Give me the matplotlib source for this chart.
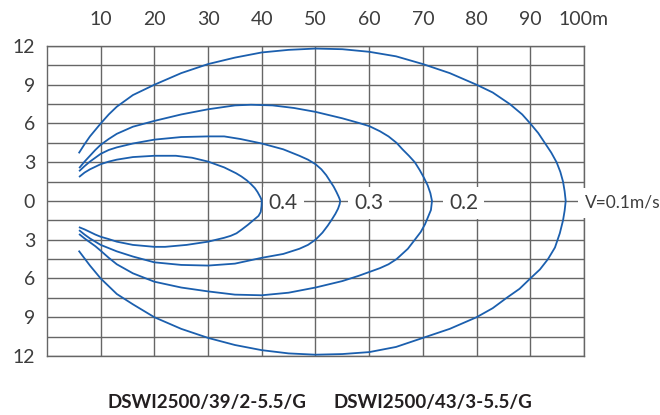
import numpy as np
import matplotlib
matplotlib.use("Agg")
from matplotlib import pyplot as plt

plt.rcParams['font.family'] = ['Lato', 'DejaVu Sans']

# distance (m) and half-width (m), one contour per velocity
v01_x = [6.0, 7, 8, 9, 10, 11.5, 13, 16, 20, 25, 30, 35, 40, 45, 50, 55, 60, 65, 70, 75, 80, 83, 86.2, 88.5, 90, 91.5,
         92.7, 93.9, 94.9, 95.6, 96.1, 96.4, 96.6,
         96.4, 96.1, 95.5, 94.6, 93.3, 91.8, 90, 88, 85.6, 83, 80, 75, 70, 65, 60, 55, 50, 45, 40, 35, 30, 25, 20, 16,
         13, 11.5, 10, 9, 8, 7, 6.0]
v01_y = [3.75, 4.4, 5.0, 5.5, 6.0, 6.7, 7.3, 8.2, 9.0, 9.9, 10.6, 11.1, 11.5, 11.7, 11.8, 11.75, 11.55, 11.2, 10.6, 9.9, 9.0,
         8.4, 7.5, 6.7, 6.0, 5.25, 4.5, 3.75, 3.0, 2.25, 1.5, 0.75, 0,
         -0.75, -1.5, -2.5, -3.6, -4.5, -5.3, -6.0, -6.8, -7.5, -8.3, -9.0, -9.9, -10.6, -11.3, -11.7, -11.85, -11.9,
         -11.8, -11.55, -11.15, -10.6, -9.9, -9.0, -8.0, -7.2, -6.6, -6.0, -5.5, -5.0, -4.45, -3.9]

v02_x = [6.1, 7, 8, 9, 10, 11.5, 13, 16, 20, 25, 30, 35, 38, 42, 46, 50, 55, 58, 60, 62, 63.6, 65.1, 66.2, 67.4, 68.5,
         69.4, 70.2, 70.9, 71.4, 71.7,
         71.5, 71.0, 70.4, 69.6, 68.5, 67.2, 65.1, 63.6, 62, 60, 58, 55, 50, 45, 40, 35, 30, 25, 20, 16, 13, 11.5, 10, 9,
         8, 7, 6.1]
v02_y = [2.6, 3.05, 3.5, 3.95, 4.35, 4.8, 5.2, 5.75, 6.2, 6.7, 7.1, 7.4, 7.45, 7.4, 7.2, 6.9, 6.4, 6.05, 5.8, 5.4, 5.0,
         4.5, 4.0, 3.5, 3.0, 2.4, 1.8, 1.2, 0.6, 0,
         -0.7, -1.2, -1.8, -2.4, -3.0, -3.7, -4.5, -4.9, -5.2, -5.5, -5.8, -6.2, -6.7, -7.1, -7.3, -7.25, -7.0, -6.7,
         -6.25, -5.6, -4.9, -4.4, -3.85, -3.5, -3.2, -2.9, -2.6]

v03_x = [6.1, 7, 8, 9, 10, 11.5, 13, 16, 20, 25, 30, 33, 36, 40, 44, 47, 48.6, 50, 51.1, 52, 52.7, 53.4, 53.9, 54.3,
         54.5, 54.6,
         54.5, 54.2, 53.7, 53.1, 52.3, 51.3, 50, 48.6, 47, 44, 40, 35, 30, 25, 20, 16, 13, 11.5, 10, 9, 8, 7, 6.1]
v03_y = [2.35, 2.7, 3.05, 3.35, 3.65, 3.95, 4.15, 4.45, 4.75, 4.95, 5.0, 5.0, 4.8, 4.45, 4.0, 3.5, 3.2, 2.85, 2.45,
         2.0, 1.55, 1.1, 0.7, 0.35, 0.15, 0,
         -0.25, -0.6, -1.0, -1.4, -1.9, -2.45, -3.0, -3.4, -3.7, -4.1, -4.4, -4.85, -5.0, -4.95, -4.75, -4.3, -3.9,
         -3.65, -3.4, -3.15, -2.9, -2.6, -2.3]

v04_x = [6.1, 7, 8, 9, 10, 11.5, 13, 16, 20, 24, 27, 30, 33, 35.2, 36.2, 37.2, 38.0, 38.7, 39.2, 39.6, 39.85, 40.0,
         39.95, 39.8, 39.4, 38.4, 37.4, 36.3, 35.3, 34.2, 33, 30, 26, 22, 20, 16, 13, 11.5, 10, 9, 8, 7, 6.1]
v04_y = [1.9, 2.2, 2.45, 2.65, 2.85, 3.05, 3.2, 3.4, 3.5, 3.5, 3.35, 3.05, 2.6, 2.15, 1.9, 1.6, 1.3, 1.0, 0.7, 0.4,
         0.2, 0,
         -0.4, -0.85, -1.15, -1.5, -1.85, -2.2, -2.5, -2.7, -2.85, -3.15, -3.4, -3.55, -3.55, -3.4, -3.15, -2.95,
         -2.77, -2.6, -2.4, -2.2, -2.05]

labels = ["0.4", "0.3", "0.2", "V=0.1m/s"]
label_x = [44.0, 59.9, 77.6, 100.2]

x_ticks = [10, 20, 30, 40, 50, 60, 70, 80, 90, 100]
x_ticklabels = ["10", "20", "30", "40", "50", "60", "70", "80", "90", "100m"]
y_ticks = [12, 9, 6, 3, 0, -3, -6, -9, -12]
y_ticklabels = ["12", "9", "6", "3", "0", "3", "6", "9", "12"]

models = ["DSWI2500/39/2-5.5/G", "DSWI2500/43/3-5.5/G"]

blue = "#1b5fae"
gridc = "#666666"
textc = "#3d3d3d"

fig = plt.figure(figsize=(6.6, 4.15), dpi=100)
ax = fig.add_axes([0.0712, 0.1422, 0.8136, 0.747])

ax.set_xlim(0, 100)
ax.set_ylim(-12, 12)

ax.xaxis.tick_top()
ax.set_xticks(x_ticks)
ax.set_xticklabels(x_ticklabels)
ax.set_yticks(y_ticks)
ax.set_yticklabels(y_ticklabels)
ax.set_yticks(np.arange(-10.5, 12, 3), minor=True)
ax.tick_params(axis="x", which="both", length=0, pad=13, labelsize=14, labelcolor=textc)
ax.tick_params(axis="y", which="both", length=0, pad=8.5, labelsize=14, labelcolor=textc)

ax.grid(True, which="both", color=gridc, lw=1.0)
ax.set_axisbelow(True)
for s in ax.spines.values():
    s.set_color(gridc)
    s.set_linewidth(1.0)

for cx, cy in [(v01_x, v01_y), (v02_x, v02_y), (v03_x, v03_y), (v04_x, v04_y)]:
    ax.plot(cx, cy, color=blue, lw=1.3, zorder=3, solid_joinstyle="round")

for lx, lab in zip(label_x, labels):
    if lab.startswith("V"):
        ha, fs, pad = "left", 12.5, 0.4
    else:
        ha, fs, pad = "center", 15, 0.28
    ax.text(lx, -0.15, lab, ha=ha, va="center", fontsize=fs, color=textc, zorder=5, clip_on=False,
            bbox=dict(boxstyle="square,pad=%.2f" % pad, fc="white", ec="none"))

fig.text(0.314, 0.029, models[0], ha="center", va="center", fontsize=13.5, fontweight="bold", color="#231f20")
fig.text(0.656, 0.029, models[1], ha="center", va="center", fontsize=13.5, fontweight="bold", color="#231f20")

fig.savefig("out.png", dpi=100)
